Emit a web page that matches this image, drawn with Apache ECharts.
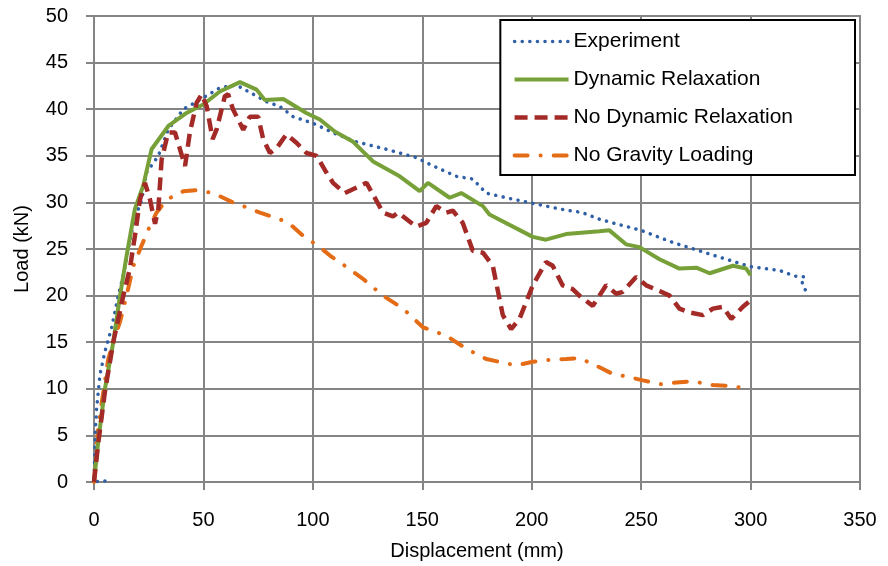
<!DOCTYPE html>
<html>
<head>
<meta charset="utf-8">
<script src="https://cdn.jsdelivr.net/npm/echarts@6/dist/echarts.min.js"></script>
<style>
    html, body { margin: 0; padding: 0; background: #fff; }
    #chart { width: 888px; height: 566px; }
</style>
</head>
<body>
<div id="chart"></div>
<script>
// [displacement (mm), load (kN)]
var experiment = [
    [5, 0.1], [2.5, 0.1], [0, 0], [0.3, 3], [0.6, 5.5], [1.2, 7.9], [2.7, 11.5], [5, 14], [8, 16.5],
    [11.1, 20], [13.4, 22.2], [18, 27.8], [21.8, 30.3], [24, 33.2], [29.4, 35], [33.9, 37.8],
    [40.8, 40], [46.9, 40.8], [57.5, 42.3], [65, 42.6], [72.8, 41.6], [78.9, 40.8], [84.9, 40.3],
    [91, 39.2], [100, 38.5], [110, 37.4], [119.9, 36.5], [133.6, 35.7], [147.3, 34.8], [153.3, 34.1],
    [165.5, 32.8], [173.1, 32.5], [179.2, 31.0], [188.3, 30.5], [200.5, 29.9], [212.6, 29.3],
    [223.3, 28.9], [231, 28.2], [238.6, 27.7], [250, 27.0], [264.5, 25.7], [276.7, 24.8],
    [288.9, 23.9], [300, 23.1], [313.3, 22.7], [320.1, 22.1], [324.7, 22.0], [323.6, 21.4], [325.2, 20.5]
];
var dynamicRelaxation = [
    [0, 0], [2, 4.5], [5, 10], [8.8, 15.0], [11.9, 20], [14.9, 24.3], [18.7, 29.3], [22.5, 31.8],
    [26.3, 35.7], [34, 38.2], [42.3, 39.6], [49.9, 40.5], [57.5, 41.9], [66.7, 42.9], [74.3, 42.1],
    [78, 41], [86.5, 41.1], [97, 39.6], [103.2, 38.9], [110, 37.6], [118.4, 36.5], [127.5, 34.4],
    [139.7, 32.8], [148.8, 31.2], [152.6, 32.1], [162.5, 30.5], [167.8, 31.0], [177.7, 29.6],
    [180.7, 28.7], [200.5, 26.3], [206.5, 26.0], [215.7, 26.6], [230.9, 26.9], [235.5, 27.0],
    [243.1, 25.5], [249.2, 25.2], [258.4, 23.9], [267.5, 22.9], [275.2, 23.0], [281.3, 22.4],
    [291.9, 23.2], [298, 22.9], [300, 22.2]
];
var noDynamicRelaxation = [
    [0, 0], [2, 4.3], [5, 9.7], [8.8, 15], [13.4, 20], [16.4, 22.9], [18.7, 26.4], [21, 30.3],
    [23.3, 32.1], [25.6, 30.3], [27.9, 27.7], [29.4, 29.3], [30.9, 34.6], [33.9, 37.5], [37, 37.5],
    [39.3, 35.7], [41.6, 33.9], [43.8, 37.5], [46.9, 40.7], [49.2, 41.6], [51.5, 40.3], [54.2, 36.8],
    [56, 37.8], [59.8, 41.4], [61.3, 41.6], [63.5, 40], [68.2, 37.8], [71.2, 39.2], [75, 39.2],
    [77.3, 36.8], [80.4, 35.3], [83.4, 35.8], [87.9, 37.3], [92.5, 36.4], [97.1, 35.3], [101.7, 35],
    [106.2, 33.2], [109.2, 32.1], [114.6, 31.0], [124.5, 32.1], [132.1, 28.9], [136.6, 28.5],
    [138.9, 28.9], [147.3, 27.4], [151.8, 27.8], [156.4, 29.6], [161, 28.9], [164, 29.1],
    [168.5, 27.8], [173.1, 24.8], [177.7, 24.6], [182.2, 23.2], [186.8, 17.9], [190.6, 16.4],
    [194.4, 17.5], [200.5, 21.1], [206.5, 23.6], [209.6, 23.2], [214.1, 21.1], [218.7, 20.7],
    [221.8, 20.0], [227.9, 18.9], [234, 21.1], [238.6, 20.2], [241.6, 20.4], [247.7, 22.0],
    [252.3, 21.1], [258.4, 20.5], [263, 20.0], [267.5, 18.6], [272.1, 18.2], [278.2, 17.9],
    [282.8, 18.6], [287.3, 18.8], [291.2, 17.5], [296.5, 18.8], [300, 19.5]
];
var noGravityLoading = [
    [0, 0], [2, 6.1], [6.5, 13.2], [8.8, 15], [11.9, 17.2], [14.9, 20], [18, 23.2], [21.8, 25.4],
    [25.6, 27.5], [28.6, 28.9], [33.2, 30.3], [40.8, 31.2], [46.9, 31.3], [54.5, 31.0], [63.5, 30.0],
    [68.2, 29.6], [75.8, 28.9], [84.9, 28.2], [89.4, 27.7], [95.6, 26.4], [103.2, 25.2], [107.8, 24.3],
    [114.6, 23.2], [122.9, 21.8], [132, 20.0], [141.2, 18.6], [150.3, 16.6], [160.9, 15.7],
    [170.1, 14.3], [179.2, 13.2], [192.9, 12.5], [200.5, 12.9], [208.1, 13.1], [215.7, 13.2],
    [221.8, 13.3], [229.4, 12.5], [237, 11.6], [244.7, 11.25], [250.8, 10.9], [259.1, 10.5],
    [267.5, 10.7], [273.6, 10.8], [282.8, 10.4], [291.9, 10.3], [298, 10.0], [300, 9.9]
];

var chart = echarts.init(document.getElementById("chart"));
var font = "Liberation Sans, Arial, sans-serif";
var gray = "#858585";
var gridLine = { lineStyle: { color: gray, width: 2 } };

var option = {
    animation: false,
    backgroundColor: "#fff",
    grid: { left: 94, right: 28, top: 16, bottom: 82, show: true, borderColor: gray, borderWidth: 2 },
    legend: {
        right: 33, top: 20,
        orient: "vertical",
        backgroundColor: "#fff",
        borderColor: "#000",
        borderWidth: 2,
        padding: [11, 62, 9, 12],
        itemWidth: 54,
        itemHeight: 14,
        itemGap: 17,
        itemStyle: { opacity: 0 },
        lineStyle: { width: "inherit" },
        textStyle: { fontFamily: font, fontSize: 21, color: "#000" },
        data: ["Experiment", "Dynamic Relaxation", "No Dynamic Relaxation", "No Gravity Loading"]
    },
    xAxis: {
        type: "value",
        min: 0, max: 350, interval: 50,
        name: "Displacement (mm)",
        nameLocation: "middle",
        nameGap: 59,
        nameTextStyle: { fontFamily: font, fontSize: 20, color: "#000" },
        axisLine: { lineStyle: { color: gray, width: 2 } },
        axisTick: { show: true, length: 8, lineStyle: { color: gray, width: 2 } },
        axisLabel: { fontFamily: font, fontSize: 20, color: "#000", margin: 28 },
        splitLine: gridLine
    },
    yAxis: {
        type: "value",
        min: 0, max: 50, interval: 5,
        name: "Load (kN)",
        nameLocation: "middle",
        nameGap: 62,
        nameTextStyle: { fontFamily: font, fontSize: 20, color: "#000" },
        axisLine: { show: true, lineStyle: { color: gray, width: 2 } },
        axisTick: { show: true, length: 8, lineStyle: { color: gray, width: 2 } },
        axisLabel: { fontFamily: font, fontSize: 20, color: "#000", margin: 26 },
        splitLine: gridLine
    },
    series: [
        {
            name: "Experiment", type: "line", data: experiment, showSymbol: false, symbol: "none",
            lineStyle: { color: "#2f5fa7", width: 3.5, type: [0.1, 7.5], cap: "round" },
            itemStyle: { color: "#2f5fa7" }, z: 2
        },
        {
            name: "Dynamic Relaxation", type: "line", data: dynamicRelaxation, showSymbol: false, symbol: "none",
            lineStyle: { color: "#77a138", width: 4 },
            itemStyle: { color: "#77a138" }, z: 3
        },
        {
            name: "No Dynamic Relaxation", type: "line", data: noDynamicRelaxation, showSymbol: false, symbol: "none",
            lineStyle: { color: "#a32a27", width: 4.5, type: [13, 7] },
            itemStyle: { color: "#a32a27" }, z: 4
        },
        {
            name: "No Gravity Loading", type: "line", data: noGravityLoading, showSymbol: false, symbol: "none",
            lineStyle: { color: "#e46c17", width: 4, type: [13, 13, 0.1, 13], cap: "round" },
            itemStyle: { color: "#e46c17" }, z: 1
        }
    ]
};
chart.setOption(option);
</script>
</body>
</html>
